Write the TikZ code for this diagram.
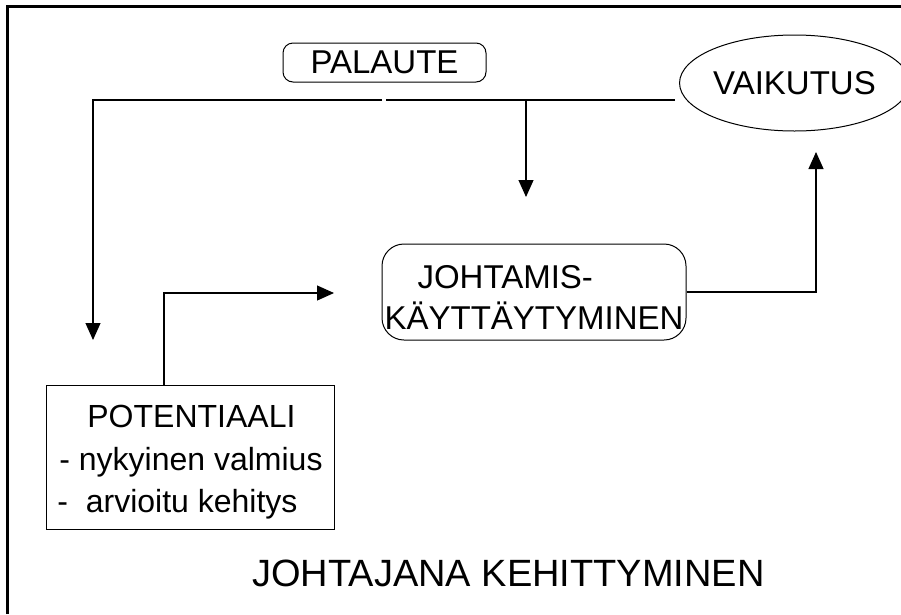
\documentclass[tikz,border=0pt]{standalone}
\usepackage{fontspec}
\setmainfont{Liberation Sans}
\usepackage{tikz}
\usetikzlibrary{positioning,arrows.meta,calc,shapes.geometric}

\begin{document}
\begin{tikzpicture}[x=1pt,y=-1pt,>={Triangle[length=17pt,width=15pt]},
  conn/.style={line width=1.1pt},
  boxtxt/.style={font=\fontsize{33}{42.5}\selectfont,line width=1pt,inner sep=0pt}]
\useasboundingbox (0,0) rectangle (901,614);
% frame
\draw[line width=3pt] (7.5,614) -- (7.5,6) -- (901,6);
% nodes
\node[boxtxt,draw,rounded corners=10pt,minimum width=203pt,minimum height=39pt] (palaute) at (384.5,62.5) {PALAUTE};
\node[boxtxt,draw,ellipse,minimum width=195pt,minimum height=96pt] (vaikutus) at (794.5,83) {VAIKUTUS};
\node[boxtxt,draw,rounded corners=22pt,minimum width=304pt,minimum height=96pt,align=left,font=\fontsize{33}{41}\selectfont] (johtamis) at (534,292) {\rule{0pt}{34pt}\hspace*{33pt}JOHTAMIS-\\KÄYTTÄYTYMINEN};
\node[boxtxt,draw,minimum width=288pt,minimum height=144pt,align=left,font=\fontsize{32}{42.5}\selectfont] (potentiaali) at (190,457) {\rule{0pt}{33pt}\hspace*{30pt}POTENTIAALI\\\hspace*{2pt}- nykyinen valmius\\-\ \ arvioitu kehitys};
\node[font=\fontsize{38}{44}\selectfont,inner sep=0pt,anchor=base] (otsikko) at (508.5,586) {JOHTAJANA KEHITTYMINEN};
% connector points
\coordinate (fbL) at (93,100);
\coordinate (fbM1) at (382,100);
\coordinate (fbM2) at (386,100);
\coordinate (fbR) at (675,100);
\coordinate (fbD) at (526,100);
\coordinate (fbDtip) at (526,197);
\coordinate (potIn) at (93,340);
\coordinate (potOut) at (164,293);
\coordinate (johIn) at (334,293);
\coordinate (vaiIn) at (816,152);
% connectors
\draw[conn] (fbR) -- (fbM2);
\draw[conn,->] (fbM1) -- (fbL) -- (potIn);
\draw[conn,->] (fbD) -- (fbDtip);
\draw[conn,->] (potentiaali.north -| potOut) -- (potOut) -- (johIn);
\draw[conn,->] (johtamis.east) -| (vaiIn);
\end{tikzpicture}
\end{document}
